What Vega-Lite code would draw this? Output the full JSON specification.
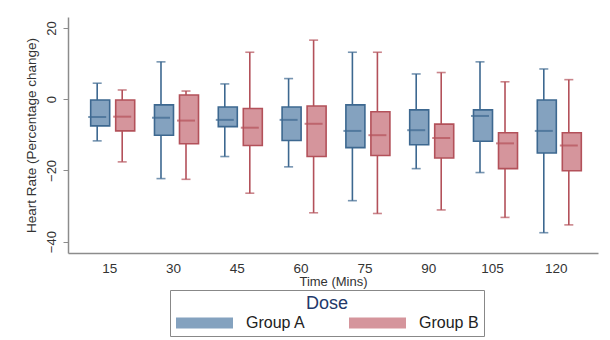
{
  "$schema": "https://vega.github.io/schema/vega-lite/v6.json",
  "autosize": {"type": "none"},
  "width": 530,
  "height": 236,
  "padding": {"left": 68, "top": 17, "right": 12, "bottom": 87},
  "background": "white",
  "config": {
    "font": "Liberation Sans",
    "view": {"stroke": null},
    "axis": {"domainColor": "#8c8c8c", "domainWidth": 1.5, "tickColor": "#8c8c8c", "labelColor": "#333", "titleColor": "#333", "titleFontWeight": "normal", "grid": false}
  },
  "data": {
    "values": [
      {"time": "15", "group": "Group A", "lower": -11.7, "q1": -7.5, "median": -5.0, "q3": -0.2, "upper": 4.5},
      {"time": "15", "group": "Group B", "lower": -17.6, "q1": -8.9, "median": -4.9, "q3": -0.2, "upper": 2.6},
      {"time": "30", "group": "Group A", "lower": -22.3, "q1": -10.1, "median": -5.2, "q3": -1.6, "upper": 10.5},
      {"time": "30", "group": "Group B", "lower": -22.5, "q1": -12.5, "median": -6.0, "q3": 1.2, "upper": 2.3},
      {"time": "45", "group": "Group A", "lower": -16.1, "q1": -7.7, "median": -5.8, "q3": -2.2, "upper": 4.3},
      {"time": "45", "group": "Group B", "lower": -26.4, "q1": -13.0, "median": -8.0, "q3": -2.6, "upper": 13.2},
      {"time": "60", "group": "Group A", "lower": -19.0, "q1": -11.6, "median": -5.8, "q3": -2.2, "upper": 5.8},
      {"time": "60", "group": "Group B", "lower": -31.9, "q1": -16.1, "median": -6.9, "q3": -1.9, "upper": 16.6},
      {"time": "75", "group": "Group A", "lower": -28.5, "q1": -13.6, "median": -8.9, "q3": -1.6, "upper": 13.2},
      {"time": "75", "group": "Group B", "lower": -32.1, "q1": -15.8, "median": -10.1, "q3": -3.5, "upper": 13.2},
      {"time": "90", "group": "Group A", "lower": -19.5, "q1": -12.8, "median": -8.7, "q3": -3.0, "upper": 7.1},
      {"time": "90", "group": "Group B", "lower": -31.1, "q1": -16.5, "median": -10.9, "q3": -7.0, "upper": 7.5},
      {"time": "105", "group": "Group A", "lower": -20.6, "q1": -11.8, "median": -4.7, "q3": -3.0, "upper": 10.5},
      {"time": "105", "group": "Group B", "lower": -33.2, "q1": -19.5, "median": -12.4, "q3": -9.4, "upper": 4.9},
      {"time": "120", "group": "Group A", "lower": -37.5, "q1": -15.1, "median": -8.9, "q3": -0.2, "upper": 8.5},
      {"time": "120", "group": "Group B", "lower": -35.3, "q1": -20.1, "median": -13.0, "q3": -9.4, "upper": 5.5}
    ]
  },
  "encoding": {
    "x": {
      "field": "time", "type": "ordinal", "sort": ["15","30","45","60","75","90","105","120"],
      "scale": {"paddingInner": 0.216, "paddingOuter": 0.2615},
      "axis": {"title": "Time (Mins)", "labelAngle": 0, "ticks": false, "labelPadding": 8, "labelFontSize": 13.5, "titleFontSize": 13, "titlePadding": 1}
    },
    "xOffset": {"field": "group", "type": "nominal", "scale": {"paddingInner": 0, "paddingOuter": 0}}
  },
  "layer": [
    {
      "mark": {"type": "rule", "strokeWidth": 1.6},
      "encoding": {
        "y": {"field": "lower", "type": "quantitative", "scale": {"domain": [-43.2, 23.1], "nice": false, "zero": false},
          "axis": {"title": "Heart Rate (Percentage change)", "values": [20, 0, -20, -40], "labelAngle": -90, "labelAlign": "center", "labelBaseline": "bottom", "tickSize": 5, "labelPadding": 5, "labelFontSize": 13, "titleFontSize": 13.5, "titlePadding": 7}},
        "y2": {"field": "upper"},
        "stroke": {"field": "group", "type": "nominal", "legend": null}
      }
    },
    {
      "mark": {"type": "tick", "size": 9, "thickness": 1.6},
      "encoding": {"y": {"field": "lower", "type": "quantitative"}, "color": {"field": "group", "type": "nominal", "scale": {"range": ["#3d6890", "#b3515a"]}, "legend": null}}
    },
    {
      "mark": {"type": "tick", "size": 9, "thickness": 1.6},
      "encoding": {"y": {"field": "upper", "type": "quantitative"}, "color": {"field": "group", "type": "nominal", "legend": null}}
    },
    {
      "mark": {"type": "bar", "width": {"band": 0.76}, "strokeWidth": 1.6, "fillOpacity": 1},
      "encoding": {
        "y": {"field": "q1", "type": "quantitative"},
        "y2": {"field": "q3"},
        "fill": {"field": "group", "type": "nominal", "scale": {"range": ["#84a2bf", "#d5959c"]},
          "legend": {"title": "Dose", "orient": "none", "legendX": 102, "legendY": 273, "direction": "horizontal", "columns": 2,
            "titleAnchor": "middle", "titleFontSize": 18, "titleFontWeight": "normal", "titleColor": "#22386a", "titlePadding": -1,
            "labelFontSize": 16, "labelColor": "#222", "labelOffset": 49,
            "symbolType": "M-1,-0.55H4.7V0.55H-1Z", "symbolSize": 400, "symbolStrokeWidth": 1.5,
            "columnPadding": 42, "padding": 5, "strokeColor": "#888", "fillColor": "white"}},
        "stroke": {"field": "group", "type": "nominal", "scale": {"range": ["#3d6890", "#b3515a"]}, "legend": null}
      }
    },
    {
      "mark": {"type": "tick", "size": 18, "thickness": 2},
      "encoding": {"y": {"field": "median", "type": "quantitative"}, "color": {"field": "group", "type": "nominal", "legend": null}}
    }
  ]
}
